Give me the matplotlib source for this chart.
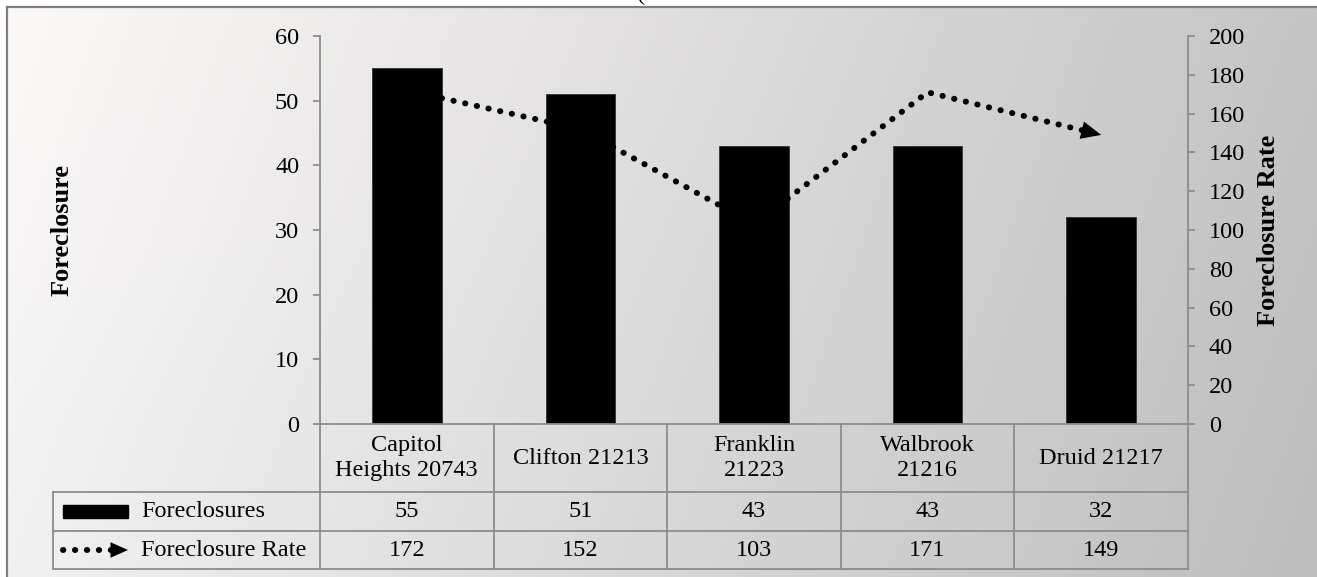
import numpy as np
import matplotlib
matplotlib.use('Agg')
import matplotlib.pyplot as plt
from matplotlib.patches import Rectangle

plt.rcParams['font.family'] = ['Liberation Serif', 'DejaVu Serif']

categories   = ['Capitol\nHeights 20743', 'Clifton 21213', 'Franklin\n21223',
                'Walbrook\n21216', 'Druid 21217']
foreclosures = [55, 51, 43, 43, 32]
rates        = [172, 152, 103, 171, 149]
row_names    = ['Foreclosures', 'Foreclosure Rate']

W, H = 1317, 577
GRID = '#8c8c8c'
FS   = 17.5

# layout in pixels
AX_L, AX_R, AX_T, AX_B = 320, 1188, 36, 424
TAB_L, ROW1, ROW2, TAB_B = 53, 492, 531, 569

fig = plt.figure(figsize=(W / 100, H / 100), dpi=100)

# background gradient + table canvas (pixel coordinates)
bg = fig.add_axes([0, 0, 1, 1])
yy, xx = np.mgrid[0:H, 0:W]
xn = np.clip((xx - 7) / (W - 7), 0, 1)
yn = np.clip((yy - 7) / (H - 7), 0, 1)
v = (249 - 52 * xn - 8 * yn) / 255
img = np.dstack([v + 4 / 255 * (1 - xn) * (1 - yn), v, v])
img[(xx < 7) | (yy < 7)] = 1.0
bg.imshow(np.clip(img, 0, 1), extent=[0, W, H, 0], aspect='auto')
bg.set_xlim(0, W); bg.set_ylim(H, 0); bg.axis('off')
bg.plot([7, 7], [7, H], color='#7f7f7f', lw=1.6)
bg.plot([7, W], [7, 7], color='#7f7f7f', lw=1.6)

# clipped title fragment
fig.text(637 / W, 1.0, '(', fontsize=FS, va='baseline', ha='left')

# main chart
ax = fig.add_axes([AX_L / W, 1 - AX_B / H, (AX_R - AX_L) / W, (AX_B - AX_T) / H])
ax.set_facecolor('none')
x = np.arange(len(categories))
ax.bar(x, foreclosures, width=0.4, color='black', edgecolor='#333333', lw=0.6)
ax.set_xlim(-0.5, len(categories) - 0.5)
ax.set_ylim(0, 60)
ax.set_yticks(range(0, 61, 10))
ax.set_xticks([])
for s in ['top', 'right']:
    ax.spines[s].set_visible(False)
for s in ['left', 'bottom']:
    ax.spines[s].set_color(GRID); ax.spines[s].set_linewidth(1.3)
ax.tick_params(axis='y', direction='out', length=5, width=1.3, color=GRID,
               labelsize=FS, pad=10)
ax.set_ylabel('Foreclosure', fontsize=19, fontweight='bold', labelpad=0)
ax.yaxis.set_label_coords(-(AX_L - 74) / (AX_R - AX_L), 0.5)

ax2 = ax.twinx()
ax2.set_ylim(0, 200)
ax2.set_yticks(range(0, 201, 20))
for s in ['top', 'left', 'bottom']:
    ax2.spines[s].set_visible(False)
ax2.spines['right'].set_color(GRID); ax2.spines['right'].set_linewidth(1.3)
ax2.tick_params(axis='y', direction='out', length=5, width=1.3, color=GRID,
                labelsize=FS, pad=10)
ax2.set_ylabel('Foreclosure Rate', fontsize=19, fontweight='bold')
ax2.yaxis.set_label_coords(1 + (1257 - AX_R) / (AX_R - AX_L), 0.5)

dots = dict(color='black', lw=4.3, linestyle=(0, (0.05, 1.95)),
            dash_capstyle='round')
ax2.plot(x, rates, **dots, zorder=3)
# arrow head on the last point
xe, ye = x[-1], rates[-1]
ax2.annotate('', xy=(xe, ye), xytext=(xe - 0.12, ye + 0.12 * (rates[-2] - ye)),
             arrowprops=dict(arrowstyle='-|>,head_length=0.45,head_width=0.2',
                             mutation_scale=32, fc='black', ec='black', lw=0,
                             shrinkA=0, shrinkB=0), zorder=4)

# data table under the chart
n = len(categories)
edges = np.linspace(AX_L, AX_R, n + 1)
centers = (edges[:-1] + edges[1:]) / 2
lk = dict(color=GRID, lw=1.3)
for e in edges:
    bg.plot([e, e], [AX_B, TAB_B], **lk)
bg.plot([TAB_L, TAB_L], [ROW1, TAB_B], **lk)
for yline in [ROW1, ROW2, TAB_B]:
    bg.plot([TAB_L, AX_R], [yline, yline], **lk)

for cx, cat in zip(centers, categories):
    bg.text(cx, (AX_B + ROW1) / 2, cat, ha='center', va='center', fontsize=FS,
            linespacing=1.2)
for cx, f, r in zip(centers, foreclosures, rates):
    bg.text(cx, (ROW1 + ROW2) / 2, str(f), ha='center', va='center', fontsize=FS)
    bg.text(cx, (ROW2 + TAB_B) / 2, str(r), ha='center', va='center', fontsize=FS)

# legend keys in the row headers
y1, y2 = (ROW1 + ROW2) / 2, (ROW2 + TAB_B) / 2
bg.add_patch(Rectangle((63, y1 - 6.5), 65, 13, color='black'))
bg.plot([63, 112], [y2, y2], **dots)
bg.annotate('', xy=(128, y2), xytext=(112, y2),
            arrowprops=dict(arrowstyle='-|>,head_length=0.45,head_width=0.2',
                            mutation_scale=28, fc='black', ec='black', lw=0,
                            shrinkA=0, shrinkB=0))
bg.text(141, y1, row_names[0], ha='left', va='center', fontsize=FS)
bg.text(141, y2, row_names[1], ha='left', va='center', fontsize=FS)

fig.savefig('out.png', dpi=100)
